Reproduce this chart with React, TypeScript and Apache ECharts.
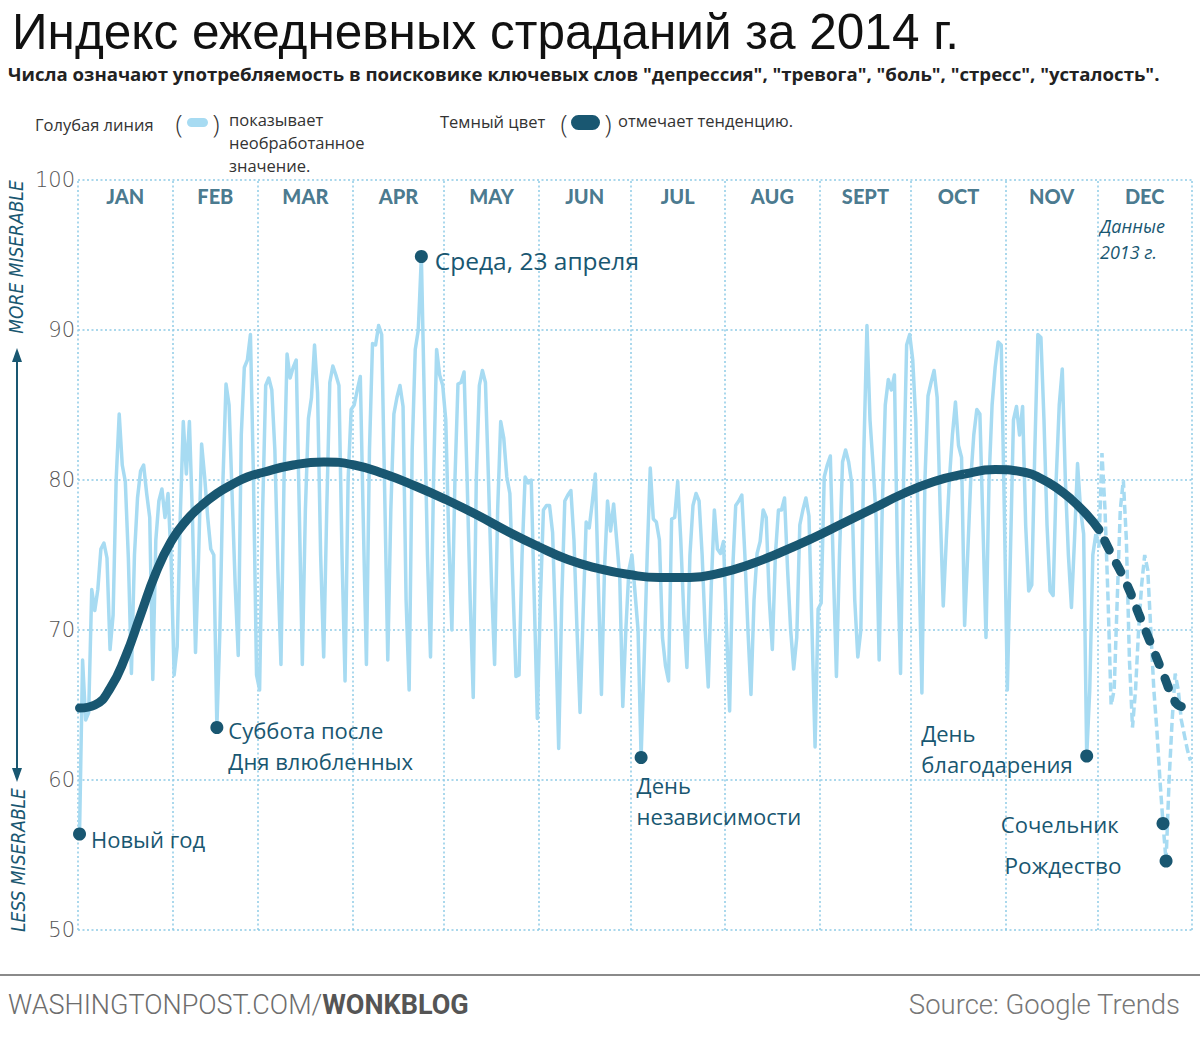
import React, { useEffect, useRef } from "react";
import * as echarts from "echarts";

// ---------- data ----------
const MONTHS = ["JAN", "FEB", "MAR", "APR", "MAY", "JUN", "JUL", "AUG", "SEPT", "OCT", "NOV", "DEC"];
const MONTH_DAYS = [31, 28, 31, 30, 31, 30, 31, 31, 30, 31, 30, 31];

const RAW_JAN = [56.4, 68, 64, 64.5, 72.7, 71.3, 72.7, 75.4, 75.8, 74.8, 68.7, 71, 80, 84.4, 81, 79.9, 74.8, 67.1, 75, 78.8, 80.6, 81, 79.1, 77.5, 66.7, 76, 78.6, 79.4, 77.5, 79.1, 74.8];
const RAW_FEB = [67, 68.9, 77.5, 83.9, 80.4, 83.9, 77.5, 68.5, 74.8, 82.4, 80.2, 77.5, 75.4, 75, 63.5, 70, 80, 86.4, 85, 79, 73, 68.3, 83, 87.5, 88, 89.7, 80, 67];
const RAW_MAR = [66, 78, 86.3, 86.8, 86, 82, 74, 67.7, 80, 88.4, 86.8, 87.5, 88, 78, 67.7, 78, 84.1, 85.5, 89, 85.8, 75, 68.2, 78, 86.5, 87.6, 87, 86.3, 75, 66.6, 80, 84.7];
const RAW_APR = [85, 86, 86.9, 77, 67.7, 82, 89.1, 89, 90.3, 89.7, 79, 68, 78, 84.4, 85.5, 86.3, 84.9, 72, 66, 82, 88.7, 90, 94.9, 85, 75, 68.2, 80, 88.7, 87, 86.3];
const RAW_MAY = [84, 76, 70, 80, 86.4, 86.5, 87.2, 80, 72, 65.5, 80, 86.3, 87.3, 86.5, 80, 73, 67.7, 78, 83.9, 82.8, 80.2, 79.1, 73, 66.9, 67, 75, 80.2, 79.8, 80, 72, 64.1];
const RAW_JUN = [72, 78, 78.3, 78.3, 76.5, 70, 62.1, 72, 78.6, 79, 79.3, 76, 70, 64.5, 71, 77.2, 76.8, 78.5, 80.4, 73, 65.7, 74, 78.6, 76.6, 78.4, 76, 73.5, 64.9, 70, 74];
const RAW_JUL = [75, 72.5, 70, 61.5, 68, 75, 80.8, 77.4, 77.2, 76, 69.5, 67.6, 66.6, 77.4, 77.5, 79.9, 76, 71, 67.5, 75, 78.3, 79.1, 78.6, 75, 70, 66.2, 73, 78, 75.4, 75.1, 75.9];
const RAW_AUG = [70, 64.6, 74, 78.3, 78.6, 79, 75, 70, 65.7, 72, 75.1, 75.9, 78, 77.5, 72, 68.7, 75, 78, 78, 78.8, 74, 70, 67.4, 69.5, 77, 78, 78.8, 77.6, 70, 62.2, 71.4];
const RAW_SEP = [71.8, 80.2, 81, 81.6, 74, 66.9, 75, 81.2, 82, 81.2, 79.8, 72, 68.2, 70, 82, 90.3, 84, 81, 77.5, 68, 78, 85, 86.7, 86, 87, 75, 67.1, 80, 89, 89.7];
const RAW_OCT = [88, 84, 75, 65.8, 80, 85.6, 86.5, 87.3, 85.5, 78, 71.6, 76, 80, 83, 85.2, 82.3, 81.5, 70.3, 75, 80, 83, 84.7, 84.4, 77, 69.5, 80, 85, 87.5, 89.2, 89, 78];
const RAW_NOV = [66, 75, 84, 84.9, 83, 84.9, 77, 72.6, 73, 82, 89.7, 89.5, 84, 77, 72.6, 72.3, 80, 85, 87.4, 80, 75, 71.5, 76, 81.1, 78, 76.4, 61.6, 66, 75, 76.4];
// December is 2013 data (dashed)
const RAW_DEC = [75.5, 81.8, 78, 72, 65, 66, 72, 78, 80, 76, 68, 63.5, 66, 70, 73, 75, 74, 70, 66, 63.3, 60, 57.1, 54.6, 60, 64, 67.1, 66, 64, 63, 62, 61.3];

const TREND_DAYS = [0, 5, 10, 15, 20, 25, 30, 35, 40, 45, 50, 55, 60, 70, 80, 90, 100, 110, 120, 130, 140, 150, 160, 170, 180, 190, 200, 210, 220, 230, 240, 250, 260, 270, 280, 290, 300, 310, 315, 320, 325, 330, 334];
const TREND_VALUES = [64.8, 65.0, 66.1, 68.2, 71.0, 73.8, 75.9, 77.3, 78.3, 79.1, 79.7, 80.2, 80.5, 81.0, 81.2, 81.0, 80.4, 79.6, 78.7, 77.7, 76.6, 75.6, 74.7, 74.1, 73.7, 73.5, 73.5, 73.8, 74.4, 75.2, 76.1, 77.1, 78.1, 79.1, 79.9, 80.4, 80.7, 80.5, 80.1, 79.5, 78.7, 77.7, 76.7];
const TREND_DEC_DAYS = [334, 338, 343, 347, 351, 355, 359, 361];
const TREND_DEC_VALUES = [76.7, 75.1, 73.1, 71.1, 69.1, 67.1, 65.2, 64.9];

const NOTE_DAYS = [0, 45, 112, 184, 330, 355, 356];
const NOTE_TEXTS = [
  "Новый год",
  "Суббота после\nДня влюбленных",
  "Среда, 23 апреля",
  "День\nнезависимости",
  "День\nблагодарения",
  "Сочельник",
  "Рождество",
];

const TITLE = "Индекс ежедневных страданий за 2014 г.";
const SUBTITLE = "Числа означают употребляемость в поисковике ключевых слов \"депрессия\", \"тревога\", \"боль\", \"стресс\", \"усталость\".";

// ---------- styles ----------
const DARK = "#195771";
const LIGHT = "#a7dbf2";
const GRID = "#8fcbe6";
const NOTE_LABEL_STYLE: any[] = [
  { position: "right", offset: [0, 5] },
  { position: "right", offset: [0, 18] },
  { position: "right", offset: [2, 4], fontSize: 24.5 },
  { position: "right", offset: [-16, 43] },
  { position: "right", offset: [-177, -8] },
  { position: "left", offset: [-33, 0] },
  { position: "left", offset: [-33, 4], fontSize: 22.5 },
];

export default function App() {
  const ref = useRef<HTMLDivElement>(null);

  useEffect(() => {
    const chart = echarts.init(ref.current!, null, { renderer: "svg" });

    const raw = [
      ...RAW_JAN, ...RAW_FEB, ...RAW_MAR, ...RAW_APR, ...RAW_MAY, ...RAW_JUN,
      ...RAW_JUL, ...RAW_AUG, ...RAW_SEP, ...RAW_OCT, ...RAW_NOV, ...RAW_DEC,
    ];
    const decStart = raw.length - RAW_DEC.length;
    const rawSolid = raw.slice(0, decStart).map((v, i) => [i, v]);
    const rawDashed = raw.slice(decStart - 1).map((v, i) => [i + decStart - 1, v]);

    const monthStarts: number[] = [];
    let acc = 0;
    MONTH_DAYS.forEach((d) => {
      monthStarts.push(acc);
      acc += d;
    });
    const monthMarks = monthStarts.map((s) => ({ xAxis: s - 0.5 })).concat([{ xAxis: acc - 0.5 }]);

    const font = (size: number, weight = "normal", family = '"Open Sans", sans-serif', style = "normal") =>
      `${style} ${weight} ${size}px ${family}`;

    const txt = (text: string, x: number, y: number, opts: any = {}) => ({
      type: "text",
      x,
      y,
      rotation: opts.rotation || 0,
      style: {
        text,
        font: opts.font || font(16.5),
        fill: opts.fill || "#333",
        textAlign: opts.align || "left",
        align: opts.align || "left",
        textVerticalAlign: "middle",
        verticalAlign: "middle",
        rich: opts.rich,
      },
    });

    const option: any = {
      animation: false,
      backgroundColor: "#fff",
      grid: { left: 78, right: 8, top: 180, bottom: 112, containLabel: false },
      xAxis: {
        type: "value",
        min: -0.5,
        max: acc - 0.5,
        axisLine: { show: false },
        axisTick: { show: false },
        axisLabel: { show: false },
        splitLine: { show: false },
      },
      yAxis: {
        type: "value",
        min: 50,
        max: 100,
        interval: 10,
        axisLine: { show: false },
        axisTick: { show: false },
        axisLabel: {
          fontSize: 21,
          fontWeight: 200,
          fontFamily: '"DejaVu Sans", sans-serif',
          color: "#555",
          margin: 3,
        },
        splitLine: { lineStyle: { color: GRID, width: 1.5, type: [2, 2.5] } },
      },
      series: [
        {
          type: "line",
          data: rawSolid,
          showSymbol: false,
          symbol: "none",
          lineStyle: { color: LIGHT, width: 3.5, join: "round" },
          z: 2,
          markLine: {
            silent: true,
            symbol: ["none", "none"],
            label: { show: false },
            lineStyle: { color: GRID, width: 1.5, type: [2, 2.5] },
            data: monthMarks,
            z: 1,
          },
        },
        {
          type: "line",
          data: rawDashed,
          showSymbol: false,
          symbol: "none",
          lineStyle: { color: LIGHT, width: 3.5, type: [9, 4] },
          z: 2,
        },
        {
          type: "line",
          data: TREND_DAYS.map((d, i) => [d, TREND_VALUES[i]]),
          smooth: 0.5,
          showSymbol: false,
          symbol: "none",
          lineStyle: { color: DARK, width: 9, cap: "round" },
          z: 3,
        },
        {
          type: "line",
          data: TREND_DEC_DAYS.map((d, i) => [d, TREND_DEC_VALUES[i]]),
          smooth: true,
          showSymbol: false,
          symbol: "none",
          lineStyle: { color: DARK, width: 9, cap: "round", type: [10, 15], dashOffset: 12 },
          z: 3,
        },
        {
          type: "scatter",
          symbolSize: 13,
          itemStyle: { color: DARK, opacity: 1 },
          z: 5,
          data: NOTE_DAYS.map((d, i) => ({
            value: [d, raw[d]],
            label: {
              show: true,
              formatter: NOTE_TEXTS[i],
              distance: 5,
              fontSize: 22,
              lineHeight: 31,
              fontFamily: '"Open Sans", sans-serif',
              color: DARK,
              opacity: 1,
              ...NOTE_LABEL_STYLE[i],
            },
          })),
        },
        {
          type: "scatter",
          symbolSize: 0.1,
          itemStyle: { color: "rgba(0,0,0,0)" },
          z: 4,
          data: MONTHS.map((m, i) => ({ value: [monthStarts[i] + MONTH_DAYS[i] / 2 - 0.5, 98.93], name: m })),
          label: {
            show: true,
            position: "inside",
            formatter: "{b}",
            fontSize: 20,
            fontWeight: 900,
            fontFamily: 'Lato, "DejaVu Sans", sans-serif',
            color: DARK,
          },
        },
      ],
      graphic: [
        txt(TITLE, 12, 31, { font: font(49.5, "normal", '"Liberation Sans", Arial, sans-serif'), fill: "#111" }),
        txt(SUBTITLE, 8, 73, { font: font(18.6, "bold"), fill: "#222" }),
        // legend
        txt("Голубая линия", 35, 124),
        txt("(", 179, 123, { font: font(26, "300"), align: "center" }),
        { type: "rect", shape: { x: 187, y: 118, width: 21, height: 9, r: 4.5 }, style: { fill: LIGHT } },
        txt(")", 216, 123, { font: font(26, "300"), align: "center" }),
        txt("показывает", 229, 119),
        txt("необработанное", 229, 142),
        txt("значение.", 229, 165),
        txt("Темный цвет", 440, 121),
        txt("(", 564, 123, { font: font(26, "300"), align: "center" }),
        { type: "rect", shape: { x: 571, y: 115, width: 29, height: 15, r: 7.5 }, style: { fill: DARK } },
        txt(")", 608, 123, { font: font(26, "300"), align: "center" }),
        txt("отмечает тенденцию.", 618, 120),
        // side axis titles & arrow
        txt("MORE MISERABLE", 16, 257, {
          rotation: Math.PI / 2,
          align: "center",
          fill: DARK,
          font: font(19, "normal", '"Liberation Sans Narrow", "DejaVu Sans Condensed", sans-serif', "italic"),
        }),
        txt("LESS MISERABLE", 18, 860, {
          rotation: Math.PI / 2,
          align: "center",
          fill: DARK,
          font: font(19, "normal", '"Liberation Sans Narrow", "DejaVu Sans Condensed", sans-serif', "italic"),
        }),
        { type: "line", shape: { x1: 17, y1: 358, x2: 17, y2: 772 }, style: { stroke: DARK, lineWidth: 2 } },
        { type: "polygon", shape: { points: [[17, 348], [12, 362], [22, 362]] }, style: { fill: DARK } },
        { type: "polygon", shape: { points: [[17, 782], [12, 768], [22, 768]] }, style: { fill: DARK } },
        // december note
        txt("Данные", 1100, 226, { font: font(18, "normal", '"Open Sans", sans-serif', "italic"), fill: DARK }),
        txt("2013 г.", 1100, 252, { font: font(18, "normal", '"Open Sans", sans-serif', "italic"), fill: DARK }),
        // footer
        { type: "line", shape: { x1: 0, y1: 975, x2: 1200, y2: 975 }, style: { stroke: "#8a8a8a", lineWidth: 2 } },
        txt("{a|WASHINGTONPOST.COM/}{b|WONKBLOG}", 8, 1005, {
          rich: {
            a: { fontSize: 27, fontWeight: 300, fontFamily: "Roboto", fill: "#6d6d6d", color: "#6d6d6d" },
            b: { fontSize: 27, fontWeight: "bold", fontFamily: "Roboto", fill: "#555", color: "#555" },
          },
        }),
        txt("Source: Google Trends", 1180, 1004, {
          align: "right",
          font: font(27.5, "300", "Roboto, sans-serif"),
          fill: "#777",
        }),
      ],
    };

    chart.setOption(option);
    return () => chart.dispose();
  }, []);

  return (
    <div
      ref={ref}
      style={{ position: "absolute", left: 0, top: 0, width: 1200, height: 1042, background: "#fff" }}
    />
  );
}
